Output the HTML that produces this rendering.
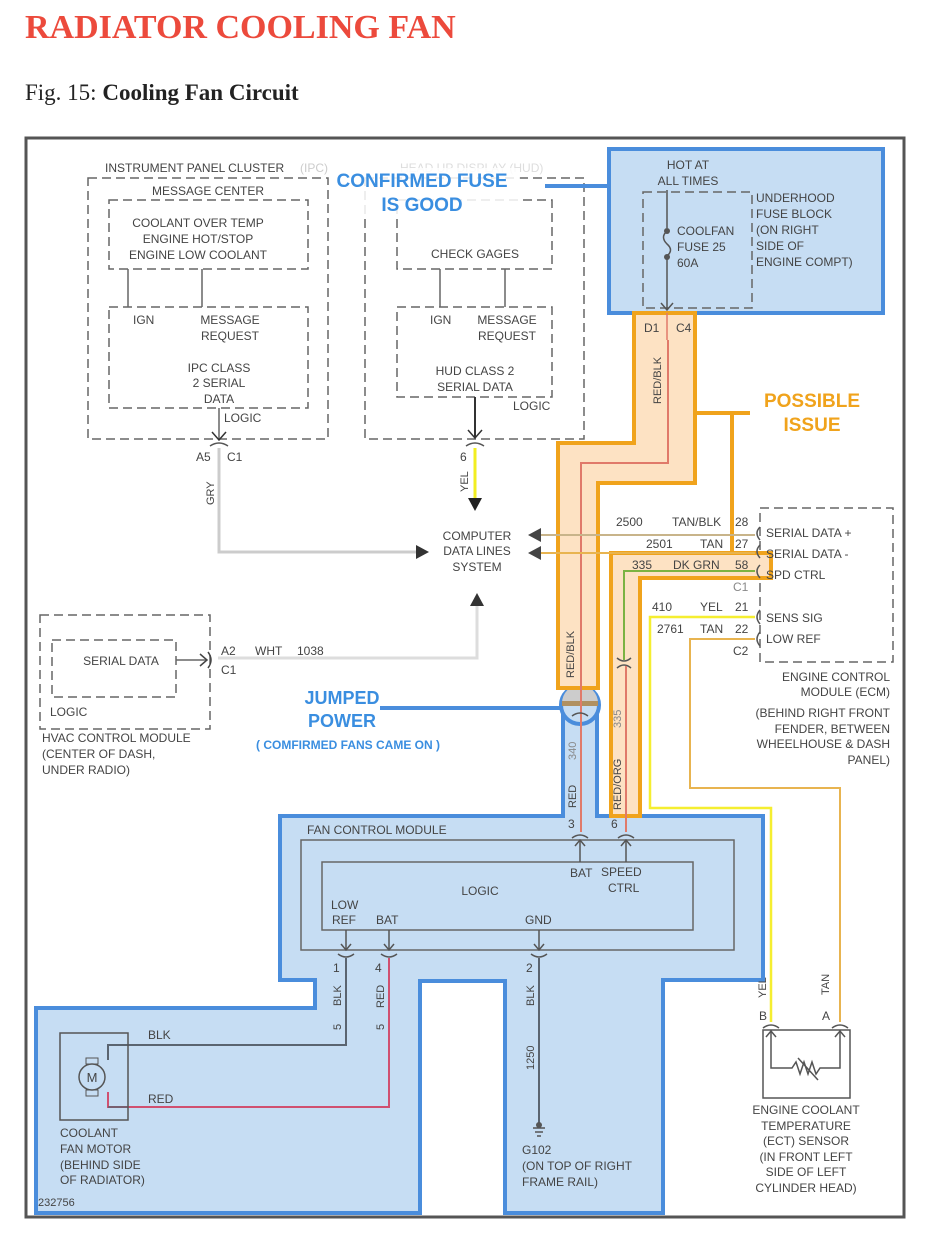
<!DOCTYPE html>
<html><head><meta charset="utf-8"><style>
html,body{margin:0;padding:0;background:#fff;}
svg text{font-family:"Liberation Sans",sans-serif;}
</style></head><body>
<svg width="930" height="1235" viewBox="0 0 930 1235" xmlns="http://www.w3.org/2000/svg">
<text x="25" y="38" font-family="Liberation Serif" font-weight="bold" font-size="34" fill="#ec4a3c" style="font-family:'Liberation Serif',serif">RADIATOR COOLING FAN</text>
<text x="25" y="100" font-size="23" fill="#222" style="font-family:'Liberation Serif',serif">Fig. 15: <tspan font-weight="bold">Cooling Fan Circuit</tspan></text>
<rect x="26" y="138" width="878" height="1079" fill="#fff" stroke="#555" stroke-width="3"/>

<g font-size="12" fill="#444" stroke="none">
<g fill="none" stroke="#666" stroke-width="1.5" stroke-dasharray="9,5">
<rect x="88" y="178" width="240" height="261"/>
<rect x="109" y="200" width="199" height="69"/>
<rect x="109" y="307" width="199" height="101"/>
<rect x="365" y="178" width="219" height="261"/>
<rect x="397" y="200" width="155" height="69"/>
<rect x="397" y="307" width="155" height="90"/>
<rect x="760" y="508" width="133" height="154"/>
<rect x="40" y="615" width="170" height="114"/>
<rect x="52" y="640" width="124" height="57"/>
</g>
<g stroke="#666" stroke-width="1.5">
<line x1="128" y1="269" x2="128" y2="307"/><line x1="202" y1="269" x2="202" y2="307"/>
<line x1="440" y1="269" x2="440" y2="307"/><line x1="505" y1="269" x2="505" y2="307"/>
<line x1="219" y1="408" x2="219" y2="440"/>
<line x1="176" y1="660" x2="207" y2="660"/>
</g>
<text x="105" y="172">INSTRUMENT PANEL CLUSTER</text><text x="300" y="172" fill="#ccc">(IPC)</text>
<text x="400" y="172" fill="#ddd">HEAD UP DISPLAY (HUD)</text>
<text x="208" y="195" text-anchor="middle">MESSAGE CENTER</text>
<text x="198" y="227" text-anchor="middle">COOLANT OVER TEMP</text>
<text x="198" y="243" text-anchor="middle">ENGINE HOT/STOP</text>
<text x="198" y="259" text-anchor="middle">ENGINE LOW COOLANT</text>
<text x="133" y="324">IGN</text>
<text x="230" y="324" text-anchor="middle">MESSAGE</text><text x="230" y="340" text-anchor="middle">REQUEST</text>
<text x="219" y="372" text-anchor="middle">IPC CLASS</text><text x="219" y="387" text-anchor="middle">2 SERIAL</text><text x="219" y="403" text-anchor="middle">DATA</text>
<text x="224" y="422">LOGIC</text>
<text x="196" y="461">A5</text><text x="227" y="461">C1</text>
<text x="475" y="258" text-anchor="middle">CHECK  GAGES</text>
<text x="430" y="324">IGN</text>
<text x="507" y="324" text-anchor="middle">MESSAGE</text><text x="507" y="340" text-anchor="middle">REQUEST</text>
<text x="475" y="375" text-anchor="middle">HUD CLASS 2</text><text x="475" y="391" text-anchor="middle">SERIAL DATA</text>
<text x="513" y="410">LOGIC</text>
<text x="460" y="461">6</text>
<line x1="475" y1="397" x2="475" y2="438" stroke="#333" stroke-width="2"/>
<path d="M468 430 L475 438 L482 430 M212 432 L219 440 L226 432" fill="none" stroke="#333" stroke-width="1.5"/>
<path d="M210 446 Q219 440 228 446 M466 446 Q475 440 484 446" fill="none" stroke="#555" stroke-width="1.5"/>

<polyline points="219,448 219,552 416,552" fill="none" stroke="#ccc" stroke-width="3"/>
<polygon points="416,545 429,552 416,559" fill="#333"/>
<text transform="translate(214,505) rotate(-90)" font-size="11">GRY</text>
<line x1="475" y1="448" x2="475" y2="500" stroke="#f2ee20" stroke-width="3"/>
<polygon points="468,498 482,498 475,511" fill="#222"/>
<text transform="translate(468,492) rotate(-90)" font-size="11">YEL</text>
<text x="477" y="540" text-anchor="middle">COMPUTER</text>
<text x="477" y="555" text-anchor="middle">DATA LINES</text>
<text x="477" y="571" text-anchor="middle">SYSTEM</text>
<polygon points="470,606 484,606 477,593" fill="#333"/>
<polyline points="477,606 477,658 218,658" fill="none" stroke="#ddd" stroke-width="3"/>

<path d="M200 654 L207 660 L200 666" fill="none" stroke="#444" stroke-width="1.5"/>
<path d="M208 652 Q214 660 208 668" fill="none" stroke="#444" stroke-width="1.5"/>
<text x="121" y="665" text-anchor="middle">SERIAL DATA</text>
<text x="50" y="716">LOGIC</text>
<text x="221" y="655">A2</text><text x="221" y="674">C1</text>
<text x="255" y="655">WHT</text><text x="297" y="655">1038</text>
<text x="42" y="742">HVAC CONTROL MODULE</text>
<text x="42" y="758">(CENTER OF DASH,</text>
<text x="42" y="774">UNDER RADIO)</text>

<!-- Fuse block -->
<rect x="609" y="149" width="274" height="164" fill="#c6ddf3" stroke="#4a8ddc" stroke-width="4"/>
<g fill="none" stroke="#666" stroke-width="1.5" stroke-dasharray="9,5"><rect x="643" y="192" width="109" height="116"/></g>
<line x1="545" y1="186" x2="609" y2="186" stroke="#4a8ddc" stroke-width="4"/>
<line x1="667" y1="190" x2="667" y2="228" stroke="#555" stroke-width="1.5"/>
<line x1="667" y1="259" x2="667" y2="310" stroke="#555" stroke-width="1.5"/>
<path d="M667 231 Q660 237 667 244 Q674 250 667 256" fill="none" stroke="#555" stroke-width="1.5"/>
<circle cx="667" cy="231" r="3" fill="#555"/><circle cx="667" cy="257" r="3" fill="#555"/>
<path d="M661 303 L667 310 L673 303" fill="none" stroke="#555" stroke-width="1.5"/>
<text x="688" y="169" text-anchor="middle">HOT AT</text><text x="688" y="185" text-anchor="middle">ALL TIMES</text>
<text x="677" y="235">COOLFAN</text><text x="677" y="251">FUSE 25</text><text x="677" y="267">60A</text>
<text x="756" y="202">UNDERHOOD</text><text x="756" y="218">FUSE BLOCK</text><text x="756" y="234">(ON RIGHT</text><text x="756" y="250">SIDE OF</text><text x="756" y="266">ENGINE COMPT)</text>
<rect x="330" y="168" width="190" height="46" fill="#fff" opacity="0.85"/>
<text x="422" y="187" text-anchor="middle" font-size="19" font-weight="bold" fill="#3a8ee0">CONFIRMED FUSE</text>
<text x="422" y="211" text-anchor="middle" font-size="19" font-weight="bold" fill="#3a8ee0">IS GOOD</text>

<!-- Fan control module blue region -->
<path d="M280 816 L563 816 L563 715 L597 715 L597 816 L763 816 L763 980 L663 980 L663 1213 L505 1213 L505 981 L420 981 L420 1213 L36 1213 L36 1008 L315 1008 L315 980 L280 980 Z" fill="#c6ddf3" stroke="#4a8ddc" stroke-width="4" stroke-linejoin="miter"/>
<line x1="565" y1="816" x2="595" y2="816" stroke="#c6ddf3" stroke-width="6"/>
<circle cx="580" cy="705" r="19" fill="#c6ddf3" stroke="#4a8ddc" stroke-width="4"/>
<path d="M562 703 A18 18 0 0 1 598 703 Z" fill="#ccc"/>
<rect x="562" y="701" width="36" height="5" fill="#b09060"/>
<line x1="380" y1="708" x2="561" y2="708" stroke="#4a8ddc" stroke-width="4"/>
<text x="342" y="704" text-anchor="middle" font-size="18" font-weight="bold" fill="#3a8ee0">JUMPED</text>
<text x="342" y="727" text-anchor="middle" font-size="18" font-weight="bold" fill="#3a8ee0">POWER</text>
<text x="348" y="749" text-anchor="middle" font-size="12" font-weight="bold" fill="#3a8ee0">( COMFIRMED FANS CAME ON )</text>

<!-- Orange harness 1 -->
<path d="M634 313 L695 313 L695 483 L598 483 L598 688 L558 688 L558 443 L634 443 Z" fill="#fde2c3" stroke="#f0a31c" stroke-width="4"/>
<polyline points="695,413 750,413" stroke="#f0a31c" stroke-width="4" fill="none"/>
<line x1="732" y1="413" x2="732" y2="553" stroke="#f0a31c" stroke-width="4"/>
<text x="812" y="407" text-anchor="middle" font-size="19" font-weight="bold" fill="#f0a31c">POSSIBLE</text>
<text x="812" y="431" text-anchor="middle" font-size="19" font-weight="bold" fill="#f0a31c">ISSUE</text>
<text x="644" y="332">D1</text><text x="676" y="332">C4</text>
<line x1="667" y1="313" x2="667" y2="340" stroke="#e07a6a" stroke-width="1.5"/>
<polyline points="668,340 668,463 581,463 581,832" fill="none" stroke="#e07a6a" stroke-width="2"/>
<text transform="translate(661,404) rotate(-90)" font-size="11">RED/BLK</text>
<text transform="translate(574,678) rotate(-90)" font-size="11">RED/BLK</text>
<text transform="translate(576,808) rotate(-90)" font-size="11">RED</text>
<text transform="translate(576,760) rotate(-90)" font-size="11" fill="#888">340</text>
<path d="M572 716 Q580 710 588 716" fill="none" stroke="#555" stroke-width="1.5"/>

<!-- Orange harness 2 -->
<path d="M611 553 L771 553 L771 578 L640 578 L640 816 L611 816 Z" fill="#fde2c3" stroke="#f0a31c" stroke-width="4"/>
<line x1="540" y1="535" x2="755" y2="535" stroke="#c8b48a" stroke-width="2"/>
<line x1="540" y1="553" x2="755" y2="553" stroke="#e8b450" stroke-width="2"/>
<polygon points="541,528 528,535 541,542" fill="#444"/>
<polygon points="541,546 528,553 541,560" fill="#444"/>
<polyline points="755,571 624,571 624,660" fill="none" stroke="#7cb342" stroke-width="2"/>
<path d="M617 658 Q624 664 631 658 M617 668 Q624 662 631 668" fill="none" stroke="#555" stroke-width="1.5"/>
<line x1="626" y1="666" x2="626" y2="832" stroke="#e07a6a" stroke-width="2"/>
<text transform="translate(621,810) rotate(-90)" font-size="11">RED/ORG</text>
<text transform="translate(621,728) rotate(-90)" font-size="11" fill="#888">335</text>
<polyline points="755,617 650,617 650,808 771,808 771,1022" fill="none" stroke="#f5ee30" stroke-width="2.5"/>
<polyline points="755,639 690,639 690,788 840,788 840,1022" fill="none" stroke="#e8b450" stroke-width="2"/>
<text x="616" y="526">2500</text><text x="672" y="526">TAN/BLK</text><text x="735" y="526">28</text>
<text x="646" y="548">2501</text><text x="700" y="548">TAN</text><text x="735" y="548">27</text>
<text x="632" y="569">335</text><text x="673" y="569">DK GRN</text><text x="735" y="569">58</text>
<text x="733" y="591" fill="#888">C1</text>
<text x="652" y="611">410</text><text x="700" y="611">YEL</text><text x="735" y="611">21</text>
<text x="657" y="633">2761</text><text x="700" y="633">TAN</text><text x="735" y="633">22</text>
<text x="733" y="655">C2</text>
<g fill="none" stroke="#555" stroke-width="1.5"><path d="M760 527 Q754 533 760 540 M760 545 Q754 551 760 558 M760 565 Q754 571 760 578 M760 610 Q754 617 760 624 M760 632 Q754 639 760 646"/></g>
<text x="766" y="537">SERIAL DATA +</text><text x="766" y="558">SERIAL DATA -</text><text x="766" y="579">SPD CTRL</text>
<text x="766" y="622">SENS SIG</text><text x="766" y="643">LOW REF</text>
<text x="890" y="681" text-anchor="end">ENGINE CONTROL</text><text x="890" y="696" text-anchor="end">MODULE (ECM)</text>
<text x="890" y="717" text-anchor="end">(BEHIND RIGHT FRONT</text><text x="890" y="733" text-anchor="end">FENDER, BETWEEN</text>
<text x="890" y="748" text-anchor="end">WHEELHOUSE &amp; DASH</text><text x="890" y="764" text-anchor="end">PANEL)</text>

<!-- FCM internals -->
<rect x="301" y="840" width="433" height="110" fill="none" stroke="#666" stroke-width="1.5"/>
<rect x="322" y="862" width="371" height="68" fill="none" stroke="#666" stroke-width="1.5"/>
<text x="307" y="834">FAN CONTROL MODULE</text>
<text x="568" y="828">3</text><text x="611" y="828">6</text>
<path d="M572 838 Q580 832 588 838 M618 838 Q626 832 634 838" fill="none" stroke="#555" stroke-width="1.5"/>
<line x1="580" y1="840" x2="580" y2="862" stroke="#555" stroke-width="1.5"/>
<line x1="626" y1="840" x2="626" y2="862" stroke="#555" stroke-width="1.5"/>
<path d="M575 846 L580 840 L585 846 M621 846 L626 840 L631 846" fill="none" stroke="#555" stroke-width="1.5"/>
<text x="570" y="877">BAT</text><text x="601" y="876">SPEED</text><text x="608" y="892">CTRL</text>
<text x="480" y="895" text-anchor="middle">LOGIC</text>
<text x="331" y="909">LOW</text><text x="332" y="924">REF</text><text x="376" y="924">BAT</text><text x="525" y="924">GND</text>
<g stroke="#555" stroke-width="1.5" fill="none">
<line x1="346" y1="930" x2="346" y2="950"/><line x1="389" y1="930" x2="389" y2="950"/><line x1="539" y1="930" x2="539" y2="950"/>
<path d="M341 944 L346 950 L351 944 M384 944 L389 950 L394 944 M534 944 L539 950 L544 944"/>
<path d="M338 954 Q346 960 354 954 M381 954 Q389 960 397 954 M531 954 Q539 960 547 954"/>
</g>
<text x="333" y="972">1</text><text x="375" y="972">4</text><text x="526" y="972">2</text>
<polyline points="346,958 346,1045 108,1045 108,1060" fill="none" stroke="#5a6470" stroke-width="2"/>
<polyline points="389,958 389,1107 108,1107 108,1092" fill="none" stroke="#d05070" stroke-width="2"/>
<line x1="108" y1="1107" x2="128" y2="1107" stroke="#5a6470" stroke-width="1.5"/>
<line x1="539" y1="958" x2="539" y2="1125" stroke="#5a6470" stroke-width="2"/>
<text transform="translate(341,1006) rotate(-90)" font-size="11">BLK</text>
<text transform="translate(341,1030) rotate(-90)" font-size="11">5</text>
<text transform="translate(384,1008) rotate(-90)" font-size="11">RED</text>
<text transform="translate(384,1030) rotate(-90)" font-size="11">5</text>
<text transform="translate(534,1006) rotate(-90)" font-size="11">BLK</text>
<text transform="translate(534,1070) rotate(-90)" font-size="11">1250</text>
<rect x="60" y="1033" width="68" height="87" fill="none" stroke="#555" stroke-width="1.5"/>
<rect x="86" y="1058" width="12" height="6" fill="none" stroke="#555"/><rect x="86" y="1090" width="12" height="6" fill="none" stroke="#555"/>
<circle cx="92" cy="1077" r="13" fill="#c6ddf3" stroke="#555" stroke-width="1.5"/>
<text x="92" y="1082" text-anchor="middle" font-size="13">M</text>
<text x="148" y="1039">BLK</text><text x="148" y="1103">RED</text>
<text x="60" y="1137">COOLANT</text><text x="60" y="1153">FAN MOTOR</text><text x="60" y="1169">(BEHIND SIDE</text><text x="60" y="1184">OF RADIATOR)</text>
<text x="38" y="1206" font-size="11">232756</text>
<path d="M533 1128 L545 1128 M535 1132 L543 1132 M537 1136 L541 1136" stroke="#555" stroke-width="1.5"/>
<circle cx="539" cy="1125" r="3" fill="#555"/>
<text x="522" y="1154">G102</text><text x="522" y="1170">(ON TOP OF RIGHT</text><text x="522" y="1186">FRAME RAIL)</text>

<text transform="translate(766,998) rotate(-90)" font-size="11">YEL</text>
<text transform="translate(829,995) rotate(-90)" font-size="11">TAN</text>
<text x="759" y="1020">B</text><text x="822" y="1020">A</text>
<path d="M763 1028 Q771 1022 779 1028 M832 1028 Q840 1022 848 1028" fill="none" stroke="#555" stroke-width="1.5"/>
<rect x="763" y="1030" width="87" height="68" fill="none" stroke="#555" stroke-width="1.5"/>
<polyline points="771,1030 771,1068 792,1068 796,1062 800,1074 804,1062 808,1074 812,1062 816,1074 820,1068 840,1068 840,1030" fill="none" stroke="#555" stroke-width="1.5"/>
<path d="M766 1037 L771 1031 L776 1037 M835 1037 L840 1031 L845 1037 M798 1058 L818 1080" fill="none" stroke="#555" stroke-width="1.5"/>
<text x="806" y="1114" text-anchor="middle">ENGINE COOLANT</text><text x="806" y="1130" text-anchor="middle">TEMPERATURE</text>
<text x="806" y="1145" text-anchor="middle">(ECT) SENSOR</text><text x="806" y="1161" text-anchor="middle">(IN FRONT LEFT</text>
<text x="806" y="1176" text-anchor="middle">SIDE OF LEFT</text><text x="806" y="1192" text-anchor="middle">CYLINDER HEAD)</text>
</g>
</svg>
</body></html>
